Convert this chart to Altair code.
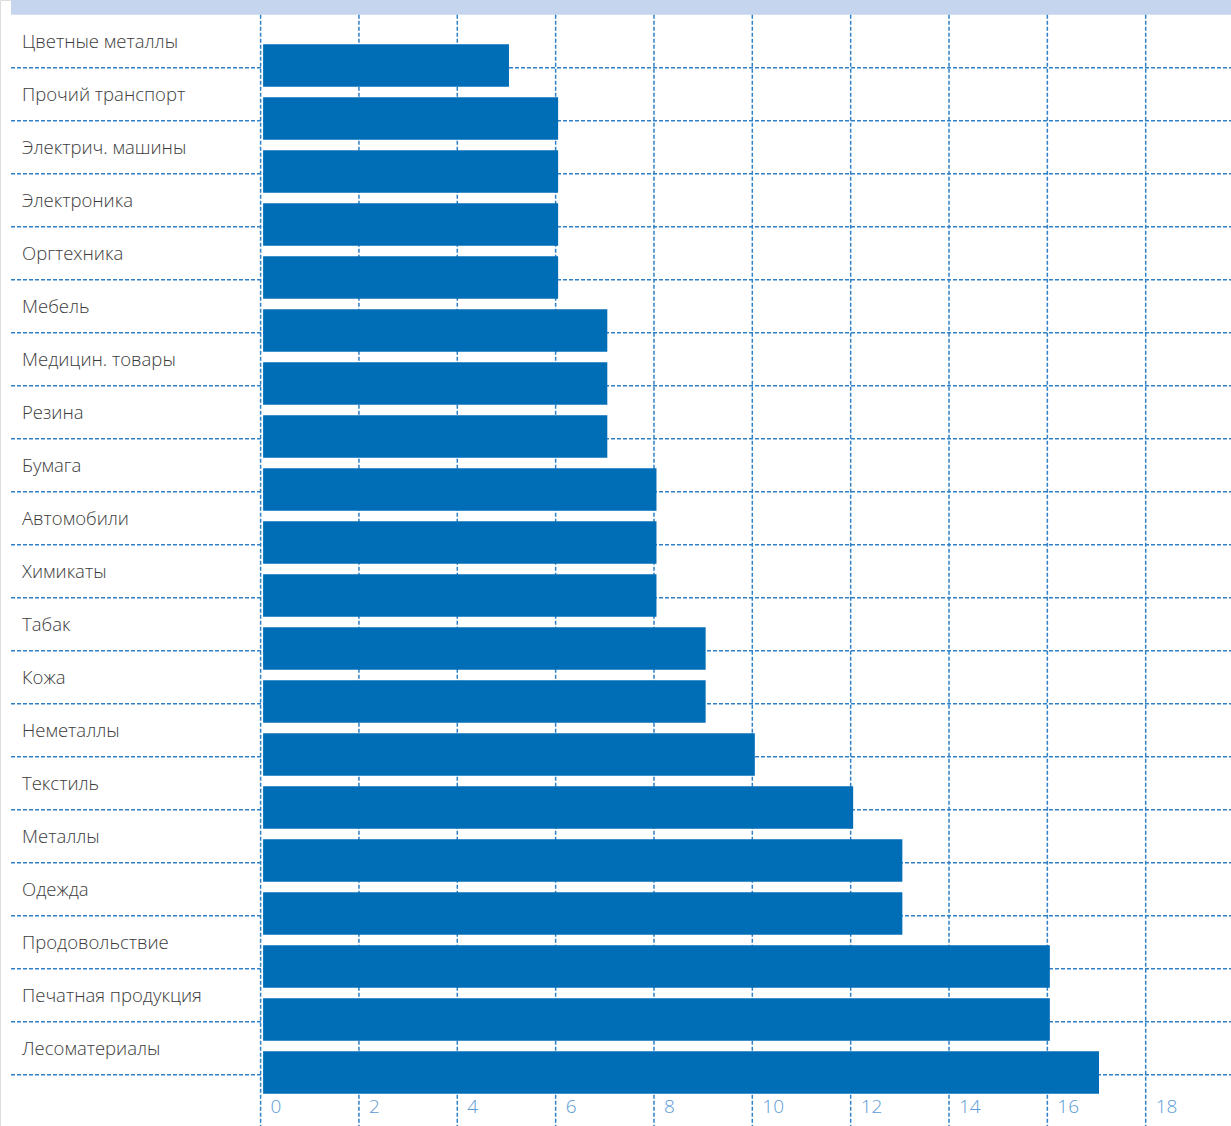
import altair as alt
import pandas as pd

# Categories listed top to bottom, with their values
categories = [
    "Цветные металлы", "Прочий транспорт", "Электрич. машины", "Электроника",
    "Оргтехника", "Мебель", "Медицин. товары", "Резина", "Бумага",
    "Автомобили", "Химикаты", "Табак", "Кожа", "Неметаллы", "Текстиль",
    "Металлы", "Одежда", "Продовольствие", "Печатная продукция", "Лесоматериалы",
]
values = [5, 6, 6, 6, 6, 7, 7, 7, 8, 8, 8, 9, 9, 10, 12, 13, 13, 16, 16, 17]
x_ticks = [0, 2, 4, 6, 8, 10, 12, 14, 16, 18]

W, H = 1231, 1126
BAR = "#006db7"
GRID = "#2f80c4"
TICK_TEXT = "#5b9bd5"
LABEL_TEXT = "#3c3c3c"
BAND = "#c6d5ee"
FONT = "Open Sans"

rows = pd.DataFrame({"category": categories, "value": values, "row": range(len(categories))})
ticks = pd.DataFrame({"tick": x_ticks})

x_scale = alt.Scale(domain=[-5.30, 19.735], nice=False, zero=False)
y_scale = alt.Scale(domain=[-1.28, 19.965], nice=False, zero=False, reverse=True)

X = lambda f: alt.X(f, type="quantitative", scale=x_scale, axis=None)
Y = lambda f: alt.Y(f, type="quantitative", scale=y_scale, axis=None)

base_rows = alt.Chart(rows)

# header band
band = alt.Chart(pd.DataFrame({"y0": [-1.28], "y1": [-1.0]})).mark_rect(color=BAND).encode(
    x=alt.value(11), x2=alt.value(W), y=Y("y0"), y2="y1"
)

# vertical dashed grid
vgrid = alt.Chart(ticks).transform_calculate(y0="-1", y1="20").mark_rule(
    color=GRID, strokeDash=[4, 2], strokeWidth=1.5
).encode(x=X("tick"), y=Y("y0:Q"), y2="y1:Q")

# horizontal dashed separators under each row
hgrid = base_rows.mark_rule(color=GRID, strokeDash=[4, 2], strokeWidth=1.5).encode(
    x=alt.value(11), x2=alt.value(W), y=Y("row")
)

bars = base_rows.transform_calculate(
    top="datum.row - 0.445", bottom="datum.row + 0.355", zero="0"
).mark_bar(color=BAR, xOffset=2.5, x2Offset=2.5).encode(
    x=X("value"), x2="zero:Q", y=Y("top:Q"), y2="bottom:Q"
)

labels = base_rows.transform_calculate(ly="datum.row - 0.48").mark_text(
    align="left", baseline="middle", font=FONT, fontSize=18.5, fontWeight=300, color=LABEL_TEXT
).encode(x=alt.value(22), y=Y("ly:Q"), text="category:N")

tick_labels = alt.Chart(ticks).transform_calculate(ty="19.6").mark_text(
    align="left", baseline="middle", dx=10, font=FONT, fontSize=19, fontWeight=300, color=TICK_TEXT
).encode(x=X("tick"), y=Y("ty:Q"), text="tick:Q")

chart = (
    alt.layer(band, vgrid, hgrid, bars, labels, tick_labels)
    .properties(width=W, height=H, padding=0, autosize=alt.AutoSizeParams(type="none"))
    .configure_view(stroke=None)
    .configure(background="white")
)

chart.save("out.html", embed_options={"renderer": "svg", "actions": False})
